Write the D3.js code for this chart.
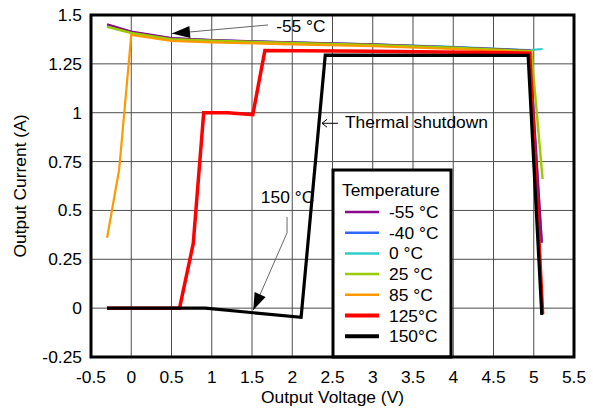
<!DOCTYPE html>
<html>
<head>
<meta charset="utf-8">
<script src="https://cdn.jsdelivr.net/npm/d3@7"></script>
<style>
  body { margin: 0; background: #fff; }
  svg text { font-family: "Liberation Sans", Arial, sans-serif; font-size: 17.4px; fill: #000; }
</style>
</head>
<body>
<svg id="chart" width="593" height="411"></svg>
<script>
// axis ticks
const xTicks = [-0.5, 0, 0.5, 1, 1.5, 2, 2.5, 3, 3.5, 4, 4.5, 5, 5.5];
const yTicks = [-0.25, 0, 0.25, 0.5, 0.75, 1, 1.25, 1.5];

// series: [voltage, current] pairs
const tMinus40 = [[-0.3,1.450],[0,1.413],[0.5,1.380],[1,1.371],[2,1.359],[3,1.349],[4,1.334],[4.95,1.318],[5.1,0.335]];
const t0 = [[-0.3,1.447],[0,1.411],[0.5,1.379],[1,1.370],[2,1.359],[3,1.350],[4,1.337],[4.95,1.320],[5.11,1.326]];
const tMinus55 = [[-0.3,1.452],[0,1.415],[0.5,1.382],[1,1.372],[2,1.360],[3,1.350],[4,1.335],[4.95,1.318],[5.1,0.335]];
const t25 = [[-0.3,1.440],[0,1.408],[0.5,1.376],[1,1.368],[2,1.357],[3,1.347],[4,1.333],[4.97,1.315],[5.11,0.66]];
const t85 = [[-0.3,0.36],[-0.15,0.71],[0,1.398],[0.5,1.368],[1,1.360],[2,1.350],[3,1.340],[4,1.326],[4.95,1.310],[5.1,-0.03]];
const t125 = [[-0.3,0],[0.6,0],[0.77,0.33],[0.9,1.0],[1.2,1.0],[1.51,0.99],[1.66,1.318],[3,1.315],[4.95,1.305],[5.11,-0.03]];
const t150 = [[-0.3,0],[0.92,0],[2.11,-0.047],[2.41,1.295],[4.93,1.293],[5.1,-0.035]];

const seriesNames = ["-55 °C", "-40 °C", "0 °C", "25 °C", "85 °C", "125°C", "150°C"];
const seriesColors = ["#8B0A8B", "#3366FF", "#33CCCC", "#99CC00", "#FF9900", "#FF0000", "#000000"];
const seriesWidths = [2.2, 2.2, 2.2, 2.4, 2.2, 3.5, 3.2];
const seriesData = [tMinus55, tMinus40, t0, t25, t85, t125, t150];
const drawOrder = [1, 2, 0, 3, 4, 5, 6];

const svg = d3.select("#chart");
const L = 91, R = 574, T = 15, B = 357;

const x = d3.scaleLinear().domain([-0.5, 5.5]).range([L, R]);
const y = d3.scaleLinear().domain([-0.25, 1.5]).range([B, T]);

// grid
svg.append("g").selectAll("line").data(xTicks).enter().append("line")
  .attr("x1", d => x(d)).attr("x2", d => x(d)).attr("y1", T).attr("y2", B)
  .attr("stroke", "#4d4d4d").attr("stroke-width", 1);
svg.append("g").selectAll("line").data(yTicks).enter().append("line")
  .attr("y1", d => y(d)).attr("y2", d => y(d)).attr("x1", L).attr("x2", R)
  .attr("stroke", "#4d4d4d").attr("stroke-width", 1);

// tick labels
svg.append("g").selectAll("text").data(xTicks).enter().append("text")
  .attr("x", d => x(d)).attr("y", 383).attr("text-anchor", "middle").text(d => d);
svg.append("g").selectAll("text").data(yTicks).enter().append("text")
  .attr("x", 82).attr("y", d => y(d) + 6).attr("text-anchor", "end").text(d => d);

// axis titles
svg.append("text").attr("x", (L + R) / 2).attr("y", 403).attr("text-anchor", "middle").text("Output Voltage (V)");
svg.append("text").attr("transform", "translate(26," + ((T + B) / 2) + ") rotate(-90)")
  .attr("text-anchor", "middle").text("Output Current (A)");

// curves
const line = d3.line().x(d => x(d[0])).y(d => y(d[1]));
drawOrder.forEach(i => {
  svg.append("path").attr("d", line(seriesData[i]))
    .attr("fill", "none").attr("stroke", seriesColors[i])
    .attr("stroke-width", seriesWidths[i]).attr("stroke-linejoin", "miter");
});

// annotations
const head = (tip, from, len, half) => {
  const dx = from[0] - tip[0], dy = from[1] - tip[1];
  const n = Math.hypot(dx, dy), ux = dx / n, uy = dy / n;
  const bx = tip[0] + ux * len, by = tip[1] + uy * len;
  return [[tip[0], tip[1]], [bx - uy * half, by + ux * half], [bx + uy * half, by - ux * half]];
};

// -55 °C arrow
let tip = [x(0.506), y(1.405)], tail = [x(1.70), y(1.449)];
svg.append("line").attr("x1", tail[0]).attr("y1", tail[1]).attr("x2", tip[0]).attr("y2", tip[1])
  .attr("stroke", "#666").attr("stroke-width", 1);
svg.append("polygon").attr("points", head(tip, tail, 18, 6).join(" ")).attr("fill", "#000");
svg.append("text").attr("x", x(1.80)).attr("y", y(1.413)).text("-55 °C");

// 150 °C arrow
const p1 = [x(1.935), y(0.466)], p2 = [x(1.935), y(0.385)];
tip = [x(1.516), y(-0.01)];
svg.append("polyline").attr("points", [p1, p2, tip].join(" "))
  .attr("fill", "none").attr("stroke", "#666").attr("stroke-width", 1);
svg.append("polygon").attr("points", head(tip, p2, 17, 6).join(" ")).attr("fill", "#000");
svg.append("text").attr("x", x(1.61)).attr("y", y(0.538)).text("150 °C");

// thermal shutdown
const a0 = [x(2.37), y(0.946)], a1 = [x(2.57), y(0.946)];
svg.append("path")
  .attr("d", `M${a1[0]},${a1[1]}L${a0[0]},${a0[1]}M${a0[0] + 5},${a0[1] - 4}L${a0[0]},${a0[1]}L${a0[0] + 5},${a0[1] + 4}`)
  .attr("fill", "none").attr("stroke", "#000").attr("stroke-width", 1);
svg.append("text").attr("x", x(2.655)).attr("y", y(0.922)).text("Thermal shutdown");

// legend
const lg = svg.append("g");
lg.append("rect").attr("x", 333).attr("y", 170).attr("width", 118).attr("height", B - 170)
  .attr("fill", "#fff").attr("stroke", "#000").attr("stroke-width", 3);
lg.append("text").attr("x", 342).attr("y", 196).text("Temperature");
seriesNames.forEach((name, i) => {
  const by = 218 + i * 20.7;
  lg.append("line").attr("x1", 345).attr("x2", 379).attr("y1", by - 6).attr("y2", by - 6)
    .attr("stroke", seriesColors[i]).attr("stroke-width", i >= 5 ? 4 : 2.5);
  lg.append("text").attr("x", 389).attr("y", by).text(name);
});

// plot frame
svg.append("rect").attr("x", L).attr("y", T).attr("width", R - L).attr("height", B - T)
  .attr("fill", "none").attr("stroke", "#000").attr("stroke-width", 3);
</script>
</body>
</html>
